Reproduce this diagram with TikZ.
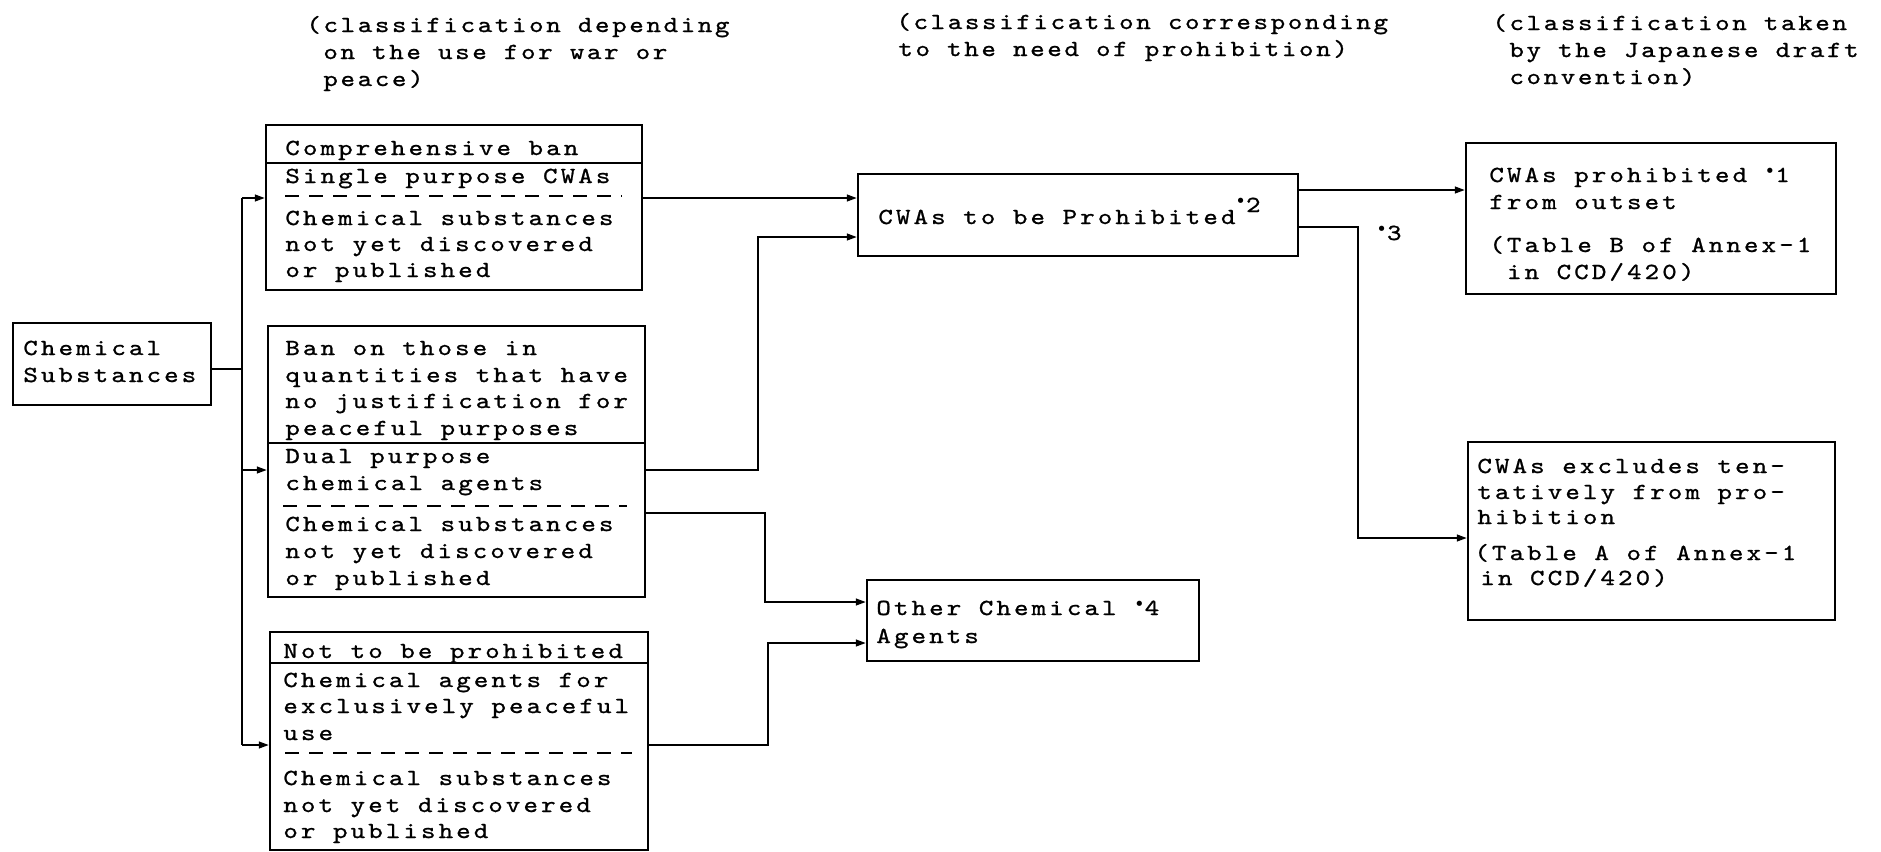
\documentclass[tikz,border=0pt]{standalone}
\usepackage{fontspec}
\usetikzlibrary{arrows.meta,fit}
% typewriter face, widened and opened up to a typewriter pitch
\newfontfamily\tw{lmmono10-regular.otf}[FakeStretch=1.2,LetterSpace=13.5,FakeBold=1]
\newfontfamily\twh{lmmono10-regular.otf}[FakeStretch=1.2,LetterSpace=11.5,FakeBold=1]
\newfontfamily\dv{DejaVu Sans}
% raised footnote dot
\newcommand\ftdot{\raisebox{2.2pt}{\dv\fontsize{9}{9}\selectfont •}}
\newcommand\txtline[4]{\node[txt] (#1) at (#2,#3) {#4};}
\newcommand\headline[4]{\node[txt, font={\fontsize{11.5}{13}\selectfont\twh}] (#1) at (#2,#3) {#4};}

\begin{document}
\begin{tikzpicture}[x=0.5pt,y=-0.5pt,
  txt/.style={font={\fontsize{11.5}{13}\selectfont\tw}, inner sep=0pt, anchor=base west},
  box/.style={draw, line width=1.2pt, inner sep=0pt},
  conn/.style={line width=0.9pt},
  arr/.style={conn, -{Triangle[length=5pt,width=3.4pt]}},
  sepline/.style={line width=0.9pt},
  dsep/.style={line width=0.9pt, dash pattern=on 7pt off 5pt}]

\fill[white] (0,0) rectangle (1881,852);

% column headings
\headline{h1a}{306}{32}{(classification depending}
\headline{h1b}{323}{59}{on the use for war or}
\headline{h1c}{323}{86}{peace)}
\headline{h2a}{896}{29}{(classification corresponding}
\headline{h2b}{898}{56}{to the need of prohibition)}
\headline{h3a}{1492}{30}{(classification taken}
\headline{h3b}{1509}{57}{by the Japanese draft}
\headline{h3c}{1509}{84}{convention)}

% boxes
\node[box, fit={(13,323) (211,405)}] (chem) {};
\node[box, fit={(266,125) (642,290)}] (top) {};
\node[box, fit={(268,326) (645,597)}] (mid) {};
\node[box, fit={(270,632) (648,850)}] (bot) {};
\node[box, fit={(858,174) (1298,256)}] (cwa) {};
\node[box, fit={(867,580) (1199,661)}] (oth) {};
\node[box, fit={(1466,143) (1836,294)}] (tr) {};
\node[box, fit={(1468,442) (1835,620)}] (br) {};

% Chemical Substances
\txtline{c1}{23}{355}{Chemical}
\txtline{c2}{23}{382}{Substances}

% comprehensive ban
\txtline{t1}{285}{155}{Comprehensive ban}
\draw[sepline] (266,163) -- (642,163);
\txtline{t2}{285}{183}{Single purpose CWAs}
\draw[dsep] (285,196) -- (622,196);
\txtline{t3}{285}{225}{Chemical substances}
\txtline{t4}{285}{251}{not yet discovered}
\txtline{t5}{285}{277}{or published}

% ban on quantities
\txtline{m1}{285}{355}{Ban on those in}
\txtline{m2}{285}{382}{quantities that have}
\txtline{m3}{285}{408}{no justification for}
\txtline{m4}{285}{435}{peaceful purposes}
\draw[sepline] (268,443) -- (645,443);
\txtline{m5}{285}{463}{Dual purpose}
\txtline{m6}{285}{490}{chemical agents}
\draw[dsep] (283,506) -- (627,506);
\txtline{m7}{285}{531}{Chemical substances}
\txtline{m8}{285}{558}{not yet discovered}
\txtline{m9}{285}{585}{or published}

% not to be prohibited
\txtline{b1}{283}{658}{Not to be prohibited}
\draw[sepline] (270,663) -- (648,663);
\txtline{b2}{283}{687}{Chemical agents for}
\txtline{b3}{283}{713}{exclusively peaceful}
\txtline{b4}{283}{740}{use}
\draw[dsep] (285,753) -- (632,753);
\txtline{b5}{283}{785}{Chemical substances}
\txtline{b6}{283}{812}{not yet discovered}
\txtline{b7}{283}{838}{or published}

% middle column
\txtline{w1}{878}{224}{CWAs to be Prohibited\raisebox{6pt}{\ftdot 2}}
\txtline{o1}{876}{615}{Other Chemical \ftdot4}
\txtline{o2}{876}{643}{Agents}

% right column
\txtline{r1}{1489}{182}{CWAs prohibited \ftdot1}
\txtline{r2}{1489}{209}{from outset}
\txtline{r3}{1489}{252}{(Table B of Annex-1}
\txtline{r4}{1506.6}{279}{in CCD/420)}
\txtline{s1}{1477}{473}{CWAs excludes ten-}
\txtline{s2}{1477}{499}{tatively from pro-}
\txtline{s3}{1477}{524}{hibition}
\txtline{s4}{1474}{560}{(Table A of Annex-1}
\txtline{s5}{1480}{585}{in CCD/420)}
\txtline{n3}{1376}{240}{\ftdot3}

% branching from Chemical Substances
\coordinate (jc) at (242,369);
\coordinate (ka) at (242,198);
\coordinate (kb) at (242,470);
\coordinate (kc) at (242,745);
\draw[conn] (chem.east |- jc) -- (jc);
\draw[conn] (ka) -- (kc);
\draw[arr] (ka) -- (top.west |- ka);
\draw[arr] (kb) -- (mid.west |- kb);
\draw[arr] (kc) -- (bot.west |- kc);

% into the middle column
\coordinate (pa) at (700,198);
\coordinate (ra) at (758,237);
\coordinate (rb) at (765,513);
\coordinate (rc) at (765,602);
\coordinate (rd) at (768,643);
\draw[arr] (top.east |- pa) -- (cwa.west |- pa);
\draw[arr] (mid.east |- kb) -| (ra) -- (cwa.west |- ra);
\draw[arr] (mid.east |- rb) -- (rb) -- (rc) -- (oth.west |- rc);
\draw[arr] (bot.east |- kc) -| (rd) -- (oth.west |- rd);

% into the right column
\coordinate (sa) at (1380,190);
\coordinate (sb) at (1358,227);
\coordinate (sc) at (1358,538);
\draw[arr] (cwa.east |- sa) -- (tr.west |- sa);
\draw[arr] (cwa.east |- sb) -- (sb) -- (sc) -- (br.west |- sc);

\end{tikzpicture}
\end{document}
